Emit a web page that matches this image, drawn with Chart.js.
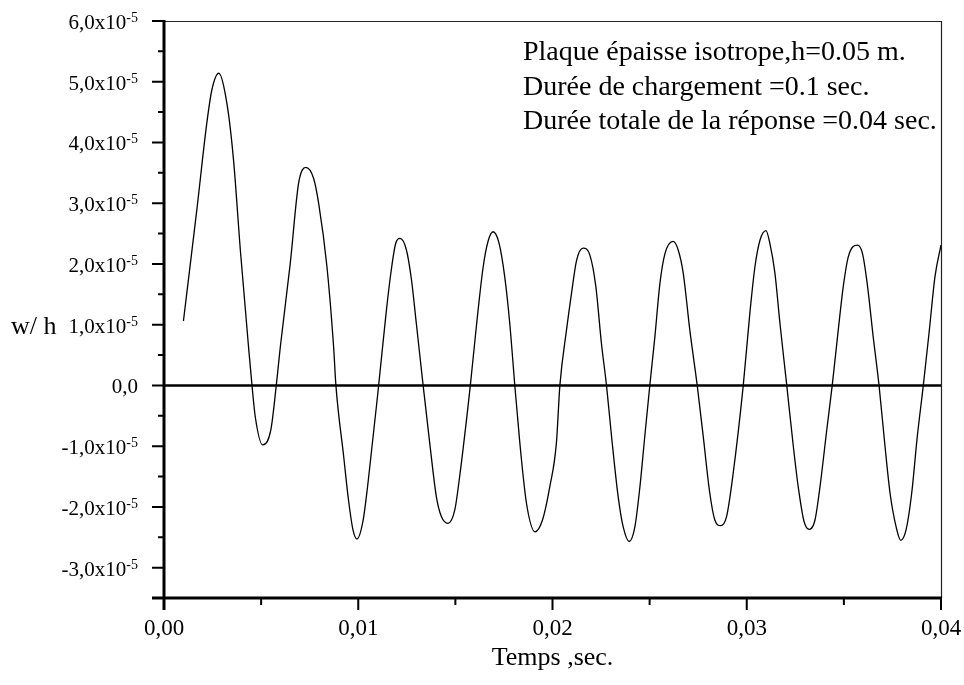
<!DOCTYPE html>
<html>
<head>
<meta charset="utf-8">
<script src="https://cdn.jsdelivr.net/npm/chart.js@4/dist/chart.umd.min.js"></script>
<style>
  html, body { margin: 0; padding: 0; background: #ffffff; }
  #wrap { width: 964px; height: 685px; position: relative; }
</style>
</head>
<body>
<div id="wrap"><canvas id="c" width="964" height="685"></canvas></div>
<script>
// Time samples (s)
const timeSec = [
  0.00100, 0.00169, 0.00220, 0.00246, 0.00282, 0.00324, 0.00358, 0.00393, 0.00435, 0.00453,
  0.00470, 0.00508, 0.00550, 0.00578, 0.00599, 0.00650, 0.00693, 0.00730, 0.00770, 0.00796,
  0.00839, 0.00873, 0.00885, 0.00925, 0.00950, 0.00973, 0.00993, 0.01024, 0.01050, 0.01105,
  0.01145, 0.01170, 0.01193, 0.01215, 0.01248, 0.01274, 0.01299, 0.01334, 0.01368, 0.01402,
  0.01428, 0.01462, 0.01497, 0.01522, 0.01577, 0.01608, 0.01643, 0.01668, 0.01694, 0.01725,
  0.01754, 0.01780, 0.01806, 0.01832, 0.01866, 0.01910, 0.01948, 0.01986, 0.02020, 0.02038,
  0.02072, 0.02098, 0.02124, 0.02158, 0.02192, 0.02223, 0.02252, 0.02278, 0.02304, 0.02338,
  0.02364, 0.02395, 0.02424, 0.02450, 0.02475, 0.02501, 0.02527, 0.02553, 0.02579, 0.02621,
  0.02647, 0.02673, 0.02707, 0.02745, 0.02776, 0.02810, 0.02836, 0.02866, 0.02896, 0.02930,
  0.02982, 0.03016, 0.03042, 0.03068, 0.03099, 0.03119, 0.03145, 0.03171, 0.03206, 0.03240,
  0.03265, 0.03295, 0.03322, 0.03351, 0.03377, 0.03412, 0.03440, 0.03471, 0.03497, 0.03523,
  0.03570, 0.03596, 0.03620, 0.03651, 0.03681, 0.03712, 0.03738, 0.03769, 0.03793, 0.03820,
  0.03849, 0.03878, 0.03909, 0.03940, 0.03969, 0.04000
];

// Deflection ratio w/h, in units of 1e-5
const deflection = [
  1.06, 2.89, 4.31, 4.86, 5.14, 4.64, 3.71, 2.23, 0.64, 0.00,
  -0.52, -0.98, -0.73, 0.00, 0.64, 2.01, 3.33, 3.59, 3.41, 3.00,
  1.95, 0.64, 0.00, -1.17, -1.89, -2.38, -2.53, -2.24, -1.61, 0.00,
  1.24, 1.90, 2.34, 2.42, 2.23, 1.74, 1.02, 0.00, -0.95, -1.83,
  -2.16, -2.27, -2.05, -1.50, 0.00, 0.97, 1.95, 2.37, 2.53, 2.34,
  1.79, 1.02, 0.00, -0.95, -1.94, -2.41, -2.22, -1.67, -0.95, 0.00,
  0.91, 1.52, 2.06, 2.26, 2.15, 1.63, 0.69, 0.00, -0.84, -1.83,
  -2.33, -2.57, -2.33, -1.67, -0.84, 0.00, 0.80, 1.68, 2.17, 2.37,
  2.23, 1.85, 0.91, 0.00, -0.84, -1.78, -2.22, -2.31, -2.16, -1.45,
  0.00, 1.19, 1.95, 2.39, 2.55, 2.34, 1.85, 1.02, 0.00, -1.01,
  -1.67, -2.24, -2.37, -2.22, -1.67, -0.73, 0.00, 0.91, 1.63, 2.12,
  2.31, 2.17, 1.68, 0.80, 0.00, -1.01, -1.78, -2.33, -2.55, -2.38,
  -1.78, -0.84, 0.00, 0.91, 1.79, 2.31
];
const DEFLECTION_UNIT = 1e-5;

// Axis ticks
const xTickValues = [0, 0.01, 0.02, 0.03, 0.04];
const xTickLabels = ['0,00', '0,01', '0,02', '0,03', '0,04'];
const xMinorValues = [0.005, 0.015, 0.025, 0.035];
const yTickValues = [-3, -2, -1, 0, 1, 2, 3, 4, 5, 6];
const yTickLabels = ['-3,0x10', '-2,0x10', '-1,0x10', '0,0', '1,0x10', '2,0x10', '3,0x10', '4,0x10', '5,0x10', '6,0x10'];
const yTickExponents = ['-5', '-5', '-5', '', '-5', '-5', '-5', '-5', '-5', '-5'];
const yMinorValues = [-2.5, -1.5, -0.5, 0.5, 1.5, 2.5, 3.5, 4.5, 5.5];

const annotationLines = [
  'Plaque épaisse isotrope,h=0.05 m.',
  'Durée de chargement =0.1 sec.',
  'Durée totale de la réponse =0.04 sec.'
];
const xTitle = 'Temps ,sec.';
const yTitle = 'w/ h';

const SERIF = '"Liberation Serif", "Times New Roman", Times, serif';

const points = timeSec.map((t, i) => ({ x: t, y: deflection[i] * DEFLECTION_UNIT }));

// Frame, ticks, labels and notes drawn from the chart's own scales
const framePlugin = {
  id: 'frame',
  beforeDatasetsDraw(chart) {
    const { ctx, chartArea: a, scales: { y } } = chart;
    ctx.save();
    const y0 = y.getPixelForValue(0);
    ctx.strokeStyle = '#000';
    ctx.lineWidth = 2.5;
    ctx.beginPath();
    ctx.moveTo(a.left, y0);
    ctx.lineTo(a.right, y0);
    ctx.stroke();
    ctx.restore();
  },
  afterDraw(chart) {
    const { ctx, chartArea: a, scales: { x, y } } = chart;
    ctx.save();
    ctx.lineCap = 'butt';

    // thin top and right borders
    ctx.lineWidth = 1.2;
    ctx.strokeStyle = '#222';
    ctx.beginPath();
    ctx.moveTo(a.left, a.top + 0.5);
    ctx.lineTo(a.right + 0.5, a.top + 0.5);
    ctx.lineTo(a.right + 0.5, a.bottom);
    ctx.stroke();

    // thick left and bottom axes
    ctx.strokeStyle = '#000';
    ctx.lineWidth = 3;
    ctx.beginPath();
    ctx.moveTo(a.left, a.top - 1);
    ctx.lineTo(a.left, a.bottom + 12);
    ctx.moveTo(a.left - 12, a.bottom);
    ctx.lineTo(a.right + 1, a.bottom);
    ctx.stroke();

    // major and minor ticks
    ctx.lineWidth = 2;
    ctx.beginPath();
    yTickValues.forEach(v => {
      const py = y.getPixelForValue(v * DEFLECTION_UNIT);
      ctx.moveTo(a.left - 12, py);
      ctx.lineTo(a.left, py);
    });
    yMinorValues.forEach(v => {
      const py = y.getPixelForValue(v * DEFLECTION_UNIT);
      ctx.moveTo(a.left - 6, py);
      ctx.lineTo(a.left, py);
    });
    xTickValues.forEach(v => {
      const px = x.getPixelForValue(v);
      ctx.moveTo(px, a.bottom);
      ctx.lineTo(px, a.bottom + 12);
    });
    xMinorValues.forEach(v => {
      const px = x.getPixelForValue(v);
      ctx.moveTo(px, a.bottom);
      ctx.lineTo(px, a.bottom + 7);
    });
    ctx.stroke();

    ctx.fillStyle = '#000';
    ctx.textBaseline = 'alphabetic';

    // y tick labels with raised exponent
    const mainFont = '21px ' + SERIF;
    const supFont = '14px ' + SERIF;
    const labelRight = a.left - 26;
    yTickValues.forEach((v, i) => {
      const py = y.getPixelForValue(v * DEFLECTION_UNIT);
      const exp = yTickExponents[i];
      ctx.font = supFont;
      const ew = exp ? ctx.measureText(exp).width : 0;
      ctx.textAlign = 'right';
      if (exp) ctx.fillText(exp, labelRight, py + 1);
      ctx.font = mainFont;
      ctx.fillText(yTickLabels[i], labelRight - ew, py + 8);
    });

    // x tick labels
    ctx.font = '23px ' + SERIF;
    ctx.textAlign = 'center';
    xTickValues.forEach((v, i) => {
      ctx.fillText(xTickLabels[i], x.getPixelForValue(v), a.bottom + 37);
    });

    // axis titles
    ctx.font = '26px ' + SERIF;
    ctx.textAlign = 'center';
    ctx.fillText(xTitle, (a.left + a.right) / 2, 665);
    ctx.textAlign = 'left';
    ctx.fillText(yTitle, 11, y.getPixelForValue(1 * DEFLECTION_UNIT) + 9);

    // notes
    ctx.font = '28px ' + SERIF;
    annotationLines.forEach((line, i) => {
      ctx.fillText(line, 523, 60 + i * 34.5);
    });
    ctx.restore();
  }
};

new Chart(document.getElementById('c'), {
  type: 'line',
  data: {
    datasets: [{
      data: points,
      borderColor: '#000',
      borderWidth: 1.3,
      pointRadius: 0,
      fill: false,
      cubicInterpolationMode: 'monotone'
    }]
  },
  options: {
    responsive: false,
    devicePixelRatio: 1,
    animation: false,
    layout: { padding: { left: 164, right: 23, top: 21, bottom: 87 } },
    plugins: { legend: { display: false }, tooltip: { enabled: false } },
    scales: {
      x: { type: 'linear', min: 0, max: 0.04, display: false },
      y: { type: 'linear', min: -3.5e-5, max: 6e-5, display: false }
    }
  },
  plugins: [framePlugin]
});
</script>
</body>
</html>
